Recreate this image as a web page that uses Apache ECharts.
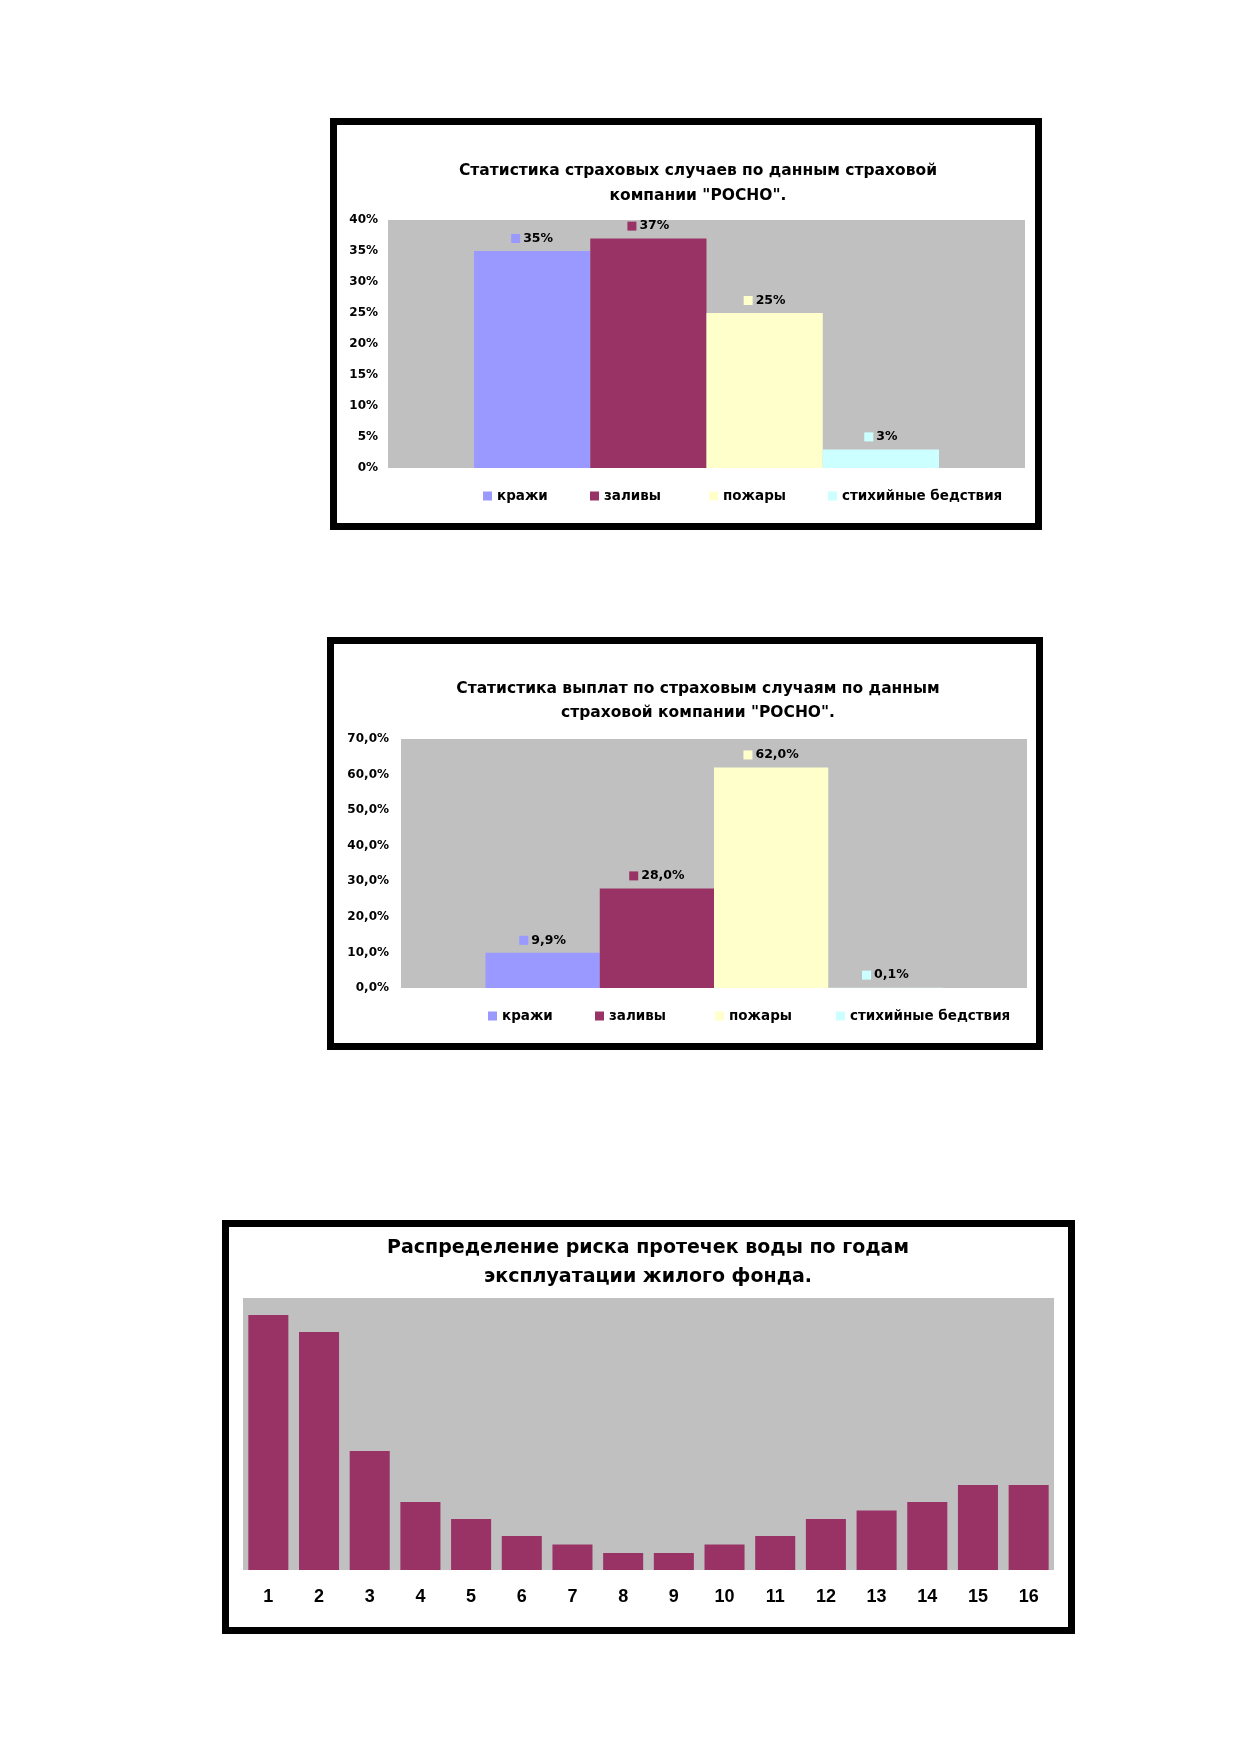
<!DOCTYPE html>
<html>
<head>
<meta charset="utf-8">
<script src="https://cdn.jsdelivr.net/npm/echarts@6/dist/echarts.min.js"></script>
<style>
html,body{margin:0;padding:0;background:#fff;}
#c{width:1239px;height:1754px;}
</style>
</head>
<body>
<div id="c"></div>
<script>
// ---- data ----
const seriesNames = ['кражи', 'заливы', 'пожары', 'стихийные бедствия'];
const seriesColors = ['#9999FF', '#993366', '#FFFFCC', '#CCFFFF'];
const casesValues = [35, 37, 25, 3];           // % of insurance cases
const payoutValues = [9.9, 28.0, 62.0, 0.1];   // % of payouts
const yearCategories = ['1','2','3','4','5','6','7','8','9','10','11','12','13','14','15','16'];
const leakRisk = [30, 28, 14, 8, 6, 4, 3, 2, 2, 3, 4, 6, 7, 8, 10, 10];
const title1 = 'Статистика страховых случаев по данным страховой\nкомпании "РОСНО".';
const title2 = 'Статистика выплат по страховым случаям по данным\nстраховой компании "РОСНО".';
const title3 = 'Распределение риска протечек воды по годам\nэксплуатации жилого фонда.';

const FONT = 'DejaVu Sans';
const fmtInt = v => v + '%';
const fmtDec = v => v.toFixed(1).replace('.', ',') + '%';

function barSeries(values, gridIdx, fmt) {
  return values.map((v, i) => ({
    name: seriesNames[i],
    type: 'bar',
    xAxisIndex: gridIdx,
    yAxisIndex: gridIdx,
    data: [v],
    barGap: '0%',
    barCategoryGap: '27%',
    itemStyle: { color: seriesColors[i] },
    label: {
      show: true,
      position: 'top',
      distance: 6,
      formatter: p => '{s| }{v|' + fmt(p.value) + '}',
      rich: {
        s: { width: 9, height: 9, backgroundColor: seriesColors[i] },
        v: { fontFamily: FONT, fontWeight: 'bold', fontSize: 12.5, color: '#000', padding: [0, 0, 0, 3] }
      }
    }
  }));
}

function legends(lefts, top) {
  return seriesNames.map((n, i) => ({
    data: [n],
    left: lefts[i],
    top: top,
    icon: 'rect',
    itemWidth: 9,
    itemHeight: 9,
    itemGap: 0,
    padding: 0,
    selectedMode: false,
    textStyle: { fontFamily: FONT, fontWeight: 'bold', fontSize: 13.5, color: '#000' }
  }));
}

const titleStyle = (size, lh) => ({ fontFamily: FONT, fontWeight: 'bold', fontSize: size, lineHeight: lh, color: '#000' });
const yLabel = (fmt, margin) => ({ fontFamily: FONT, fontWeight: 'bold', fontSize: 12, color: '#000', formatter: fmt, margin: margin });

const option = {
  animation: false,
  backgroundColor: '#fff',
  title: [
    { text: title1, left: 698, top: 158, textAlign: 'center', padding: 0, textStyle: titleStyle(15.5, 25) },
    { text: title2, left: 698, top: 677, textAlign: 'center', padding: 0, textStyle: titleStyle(15.5, 24) },
    { text: title3, left: 648, top: 1234, textAlign: 'center', padding: 0, textStyle: titleStyle(19, 29) }
  ],
  legend: [].concat(
    legends([483, 590, 709, 828], 489),
    legends([488, 595, 715, 836], 1009)
  ),
  graphic: [
    { type: 'rect', shape: { x: 333.5, y: 121.5, width: 705, height: 405 }, style: { fill: null, stroke: '#000', lineWidth: 7 } },
    { type: 'rect', shape: { x: 330.5, y: 640.5, width: 709, height: 406 }, style: { fill: null, stroke: '#000', lineWidth: 7 } },
    { type: 'rect', shape: { x: 225.5, y: 1223.5, width: 846, height: 407 }, style: { fill: null, stroke: '#000', lineWidth: 7 } }
  ],
  grid: [
    { left: 388, top: 220, width: 637, height: 248, show: true, backgroundColor: '#C0C0C0', borderWidth: 0 },
    { left: 401, top: 739, width: 626, height: 249, show: true, backgroundColor: '#C0C0C0', borderWidth: 0 },
    { left: 243, top: 1298, width: 811, height: 272, show: true, backgroundColor: '#C0C0C0', borderWidth: 0 }
  ],
  xAxis: [
    { gridIndex: 0, type: 'category', data: [''], axisLine: { show: false }, axisTick: { show: false }, axisLabel: { show: false } },
    { gridIndex: 1, type: 'category', data: [''], axisLine: { show: false }, axisTick: { show: false }, axisLabel: { show: false } },
    { gridIndex: 2, type: 'category', data: yearCategories, axisLine: { show: false }, axisTick: { show: false },
      axisLabel: { fontFamily: 'Liberation Sans Narrow, Liberation Sans', fontWeight: 'bold', fontSize: 18, color: '#000', margin: 18 } }
  ],
  yAxis: [
    { gridIndex: 0, type: 'value', min: 0, max: 40, interval: 5, splitLine: { show: false }, axisLine: { show: false }, axisTick: { show: false },
      axisLabel: yLabel(fmtInt, 10) },
    { gridIndex: 1, type: 'value', min: 0, max: 70, interval: 10, splitLine: { show: false }, axisLine: { show: false }, axisTick: { show: false },
      axisLabel: yLabel(fmtDec, 12) },
    { gridIndex: 2, type: 'value', min: 0, max: 32, show: false, splitLine: { show: false } }
  ],
  series: [].concat(
    barSeries(casesValues, 0, fmtInt),
    barSeries(payoutValues, 1, fmtDec),
    [{
      name: 'риск протечек',
      type: 'bar',
      xAxisIndex: 2,
      yAxisIndex: 2,
      data: leakRisk,
      barCategoryGap: '21%',
      itemStyle: { color: '#993366' }
    }]
  )
};

const chart = echarts.init(document.getElementById('c'), null, { renderer: 'canvas' });
chart.setOption(option);
</script>
</body>
</html>
